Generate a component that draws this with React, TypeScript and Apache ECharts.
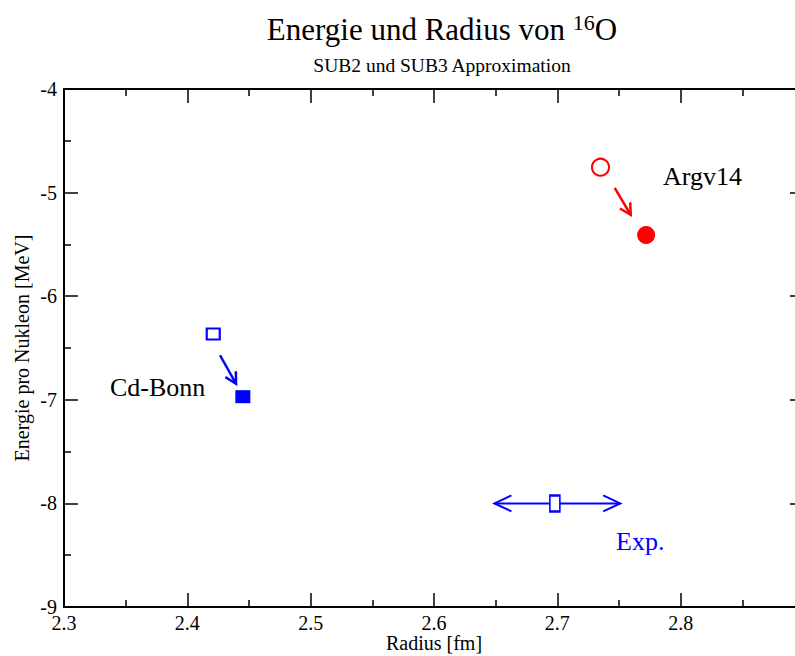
import React, { useEffect, useRef } from "react";
import * as echarts from "echarts";

const argvSub2 = [[2.735, -4.755]];
const argvSub3 = [[2.772, -5.41]];
const bonnSub2 = [[2.421, -6.365]];
const bonnSub3 = [[2.445, -6.97]];
const expPoint = [[2.698, -8.0]];
const expRange = [[2.649, 2.751, -8.0]];
const shiftArrows = [
  [2.7465, -4.955, 2.7595, -5.215, "#ff0000"],
  [2.4265, -6.57, 2.4395, -6.845, "#0000ff"],
];
const xTicks = [2.3, 2.4, 2.5, 2.6, 2.7, 2.8, 2.9];
const xTickLabels = ["2.3", "2.4", "2.5", "2.6", "2.7", "2.8", ""];
const yTicks = [-9, -8, -7, -6, -5, -4];
const yTickLabels = ["-9", "-8", "-7", "-6", "-5", "-4"];

const FONT = "'Liberation Serif', 'Times New Roman', serif";

function chevron(tip: number[], ang: number, len: number, half: number, color: string, lw: number) {
  const c = Math.cos(ang), s = Math.sin(ang);
  const bx = tip[0] - c * len, by = tip[1] - s * len;
  return {
    type: "polyline",
    shape: { points: [[bx - s * half, by + c * half], tip, [bx + s * half, by - c * half]] },
    style: { stroke: color, lineWidth: lw, fill: "none" },
  };
}

export default function App() {
  const ref = useRef<HTMLDivElement>(null);
  useEffect(() => {
    const chart = echarts.init(ref.current!, null, { renderer: "svg" });
    const axisLine = { lineStyle: { color: "#000", width: 2 } };
    const axisTick = { inside: true, length: 14, lineStyle: { color: "#000", width: 1.5 } };
    const minorTick = { show: true, splitNumber: 2, length: 7, lineStyle: { color: "#000", width: 1.5 } };
    chart.setOption({
      animation: false,
      backgroundColor: "#fff",
      textStyle: { fontFamily: FONT, fontSize: 20, color: "#000" },
      title: [
        {
          text: "{m|Energie und Radius von }{s|16}{m|O}",
          left: 437, top: 6, textAlign: "center",
          textStyle: {
            fontWeight: "normal",
            rich: {
              m: { fontFamily: FONT, fontSize: 31, fontWeight: "normal", color: "#000", verticalAlign: "bottom", lineHeight: 34 },
              s: { fontFamily: FONT, fontSize: 22, fontWeight: "normal", color: "#000", verticalAlign: "top", lineHeight: 34, padding: [0, 0, 24, 0] },
            },
          },
        },
        {
          text: "SUB2 und SUB3 Approximation",
          left: 437, top: 50, textAlign: "center",
          textStyle: { fontFamily: FONT, fontSize: 19.5, fontWeight: "normal", color: "#000" },
        },
      ],
      grid: { left: 64, right: 0, top: 89, bottom: 49, containLabel: false, outerBoundsMode: "none" },
      xAxis: [
        {
          type: "value", min: xTicks[0], max: xTicks[xTicks.length - 1], interval: 0.1, position: "bottom",
          axisLine, axisTick, minorTick, splitLine: { show: false }, axisLabel: { show: false },
          name: "Radius [fm]", nameLocation: "middle", nameGap: 26,
          nameTextStyle: { fontFamily: FONT, fontSize: 20, color: "#000" },
        },
        {
          type: "value", min: xTicks[0], max: xTicks[xTicks.length - 1], interval: 0.1, position: "top",
          axisLine, axisTick, minorTick, splitLine: { show: false }, axisLabel: { show: false },
        },
      ],
      yAxis: [
        {
          type: "value", min: yTicks[0], max: yTicks[yTicks.length - 1], interval: 1,
          axisLine, axisTick, minorTick, splitLine: { show: false }, axisLabel: { show: false },
          name: "Energie pro Nukleon [MeV]", nameLocation: "middle", nameGap: 32,
          nameTextStyle: { fontFamily: FONT, fontSize: 20, color: "#000" },
        },
        {
          type: "value", min: yTicks[0], max: yTicks[yTicks.length - 1], interval: 1, position: "right",
          axisLine, axisTick, minorTick, splitLine: { show: false }, axisLabel: { show: false },
        },
      ],
      series: [
        {
          type: "scatter", data: argvSub2, symbol: "circle", symbolSize: 17,
          itemStyle: { color: "#fff", borderColor: "#ff0000", borderWidth: 2, opacity: 1 }, z: 5,
        },
        {
          type: "scatter", data: argvSub3, symbol: "circle", symbolSize: 18,
          itemStyle: { color: "#ff0000", opacity: 1 }, z: 5,
        },
        {
          type: "scatter", data: bonnSub2, symbol: "rect", symbolSize: [13, 11],
          itemStyle: { color: "#fff", borderColor: "#0000ff", borderWidth: 2, opacity: 1 }, z: 5,
        },
        {
          type: "scatter", data: bonnSub3, symbol: "rect", symbolSize: [15, 13],
          itemStyle: { color: "#0000ff", opacity: 1 }, z: 5,
        },
        {
          type: "custom",
          data: shiftArrows,
          renderItem: (params: any, api: any) => {
            const p1 = api.coord([api.value(0), api.value(1)]);
            const p2 = api.coord([api.value(2), api.value(3)]);
            const color = shiftArrows[params.dataIndex][4] as string;
            const ang = Math.atan2(p2[1] - p1[1], p2[0] - p1[0]);
            return {
              type: "group",
              children: [
                { type: "line", shape: { x1: p1[0], y1: p1[1], x2: p2[0], y2: p2[1] }, style: { stroke: color, lineWidth: 2.5 } },
                chevron(p2, ang, 11, 6, color, 2.5),
              ],
            };
          },
          z: 4,
        },
        {
          type: "custom",
          data: expRange,
          renderItem: (params: any, api: any) => {
            const a = api.coord([api.value(0), api.value(2)]);
            const b = api.coord([api.value(1), api.value(2)]);
            return {
              type: "group",
              children: [
                { type: "line", shape: { x1: a[0], y1: a[1], x2: b[0], y2: b[1] }, style: { stroke: "#0000ff", lineWidth: 2 } },
                chevron(a, Math.PI, 17, 8, "#0000ff", 2),
                chevron(b, 0, 17, 8, "#0000ff", 2),
              ],
            };
          },
          z: 4,
        },
        {
          type: "scatter", data: expPoint, symbol: "rect", symbolSize: [10, 16],
          itemStyle: { color: "#fff", borderColor: "#0000ff", borderWidth: 2, opacity: 1 }, z: 5,
        },
      ],
    });

    const x0 = chart.convertToPixel({ yAxisIndex: 0 }, yTicks[0]) as number;
    const yAxisX = chart.convertToPixel({ xAxisIndex: 0 }, xTicks[0]) as number;
    const tickFont = `20px 'Liberation Serif'`;
    const labels: any[] = [];
    xTicks.forEach((v, i) => {
      if (!xTickLabels[i]) return;
      const px = chart.convertToPixel({ xAxisIndex: 0 }, v) as number;
      labels.push({
        type: "text", x: px, y: x0 + 16,
        style: { text: xTickLabels[i], font: tickFont, fill: "#000", align: "center", verticalAlign: "middle" },
      });
    });
    yTicks.forEach((v, i) => {
      const py = chart.convertToPixel({ yAxisIndex: 0 }, v) as number;
      labels.push({
        type: "text", x: yAxisX - 7, y: py,
        style: { text: yTickLabels[i], font: tickFont, fill: "#000", align: "right", verticalAlign: "middle" },
      });
    });

    chart.setOption({
      graphic: [
        { type: "text", x: 663, y: 176, style: { text: "Argv14", font: `26px 'Liberation Serif'`, fill: "#000", verticalAlign: "middle" } },
        { type: "text", x: 110, y: 387, style: { text: "Cd-Bonn", font: `26px 'Liberation Serif'`, fill: "#000", verticalAlign: "middle" } },
        { type: "text", x: 616, y: 541, style: { text: "Exp.", font: `26px 'Liberation Serif'`, fill: "#0000ff", verticalAlign: "middle" } },
        ...labels,
      ],
    });
    return () => chart.dispose();
  }, []);
  return (
    <div style={{ width: 795, height: 656, position: "absolute", left: 0, top: 0, overflow: "hidden" }}>
      <div ref={ref} style={{ width: 804, height: 656 }} />
    </div>
  );
}
